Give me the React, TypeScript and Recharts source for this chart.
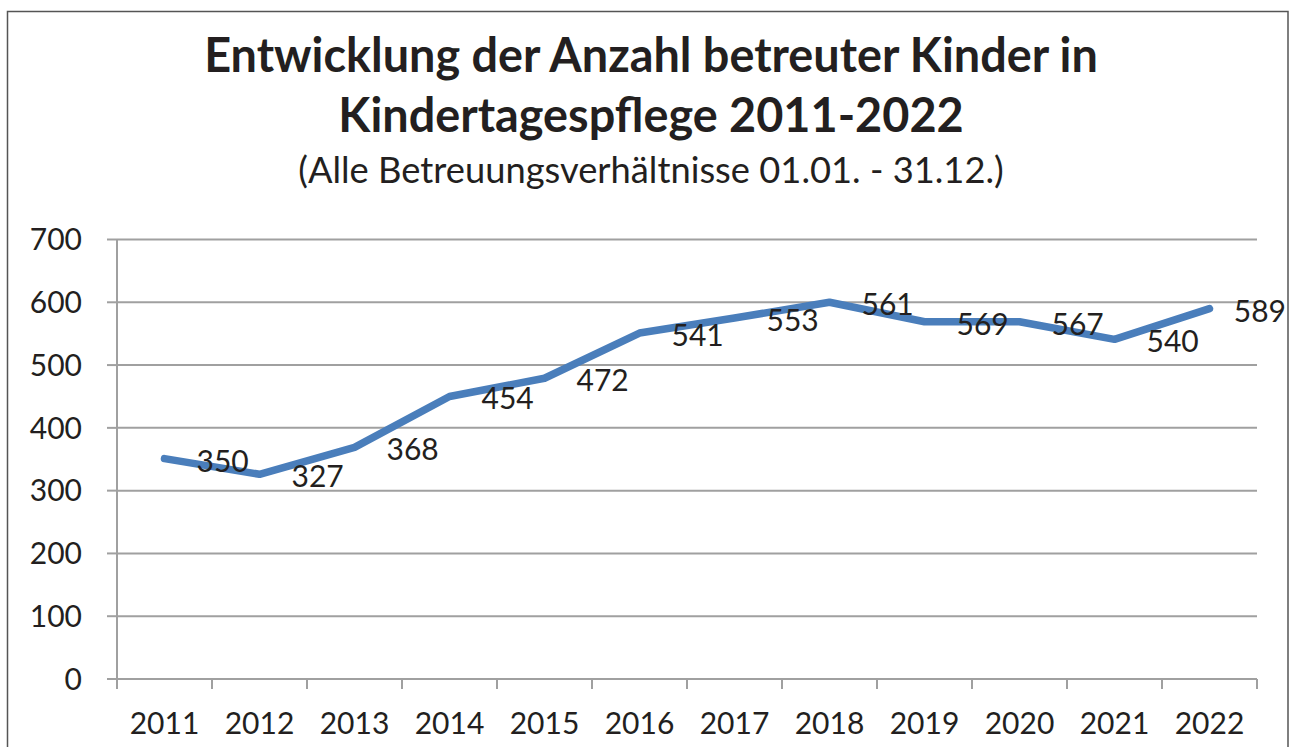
import React from 'react';
import { LineChart, Line, XAxis, YAxis, CartesianGrid, LabelList } from 'recharts';

// ---- data ----
const years = ['2011', '2012', '2013', '2014', '2015', '2016', '2017', '2018', '2019', '2020', '2021', '2022'];
// line positions as drawn in the reference
const lineValues = [351, 326, 369, 450, 479, 551, 575, 600, 569, 569, 541, 590];
// data label texts as printed in the reference
const labelValues = [350, 327, 368, 454, 472, 541, 553, 561, 569, 567, 540, 589];
const yTicks = [0, 100, 200, 300, 400, 500, 600, 700];
const bandEdges = [0, 1, 2, 3, 4, 5, 6, 7, 8, 9, 10, 11, 12];

const titleLine1 = 'Entwicklung der Anzahl betreuter Kinder in';
const titleLine2 = 'Kindertagespflege 2011-2022';
const subtitle = '(Alle Betreuungsverhältnisse 01.01. - 31.12.)';

// each category sits in the middle of its band on a 0..12 axis
const data = years.map((year, i) => ({ pos: i + 0.5, year, value: lineValues[i], label: labelValues[i] }));

const W = 1294;
const H = 747;
const FONT = 'Lato, "Open Sans", "Noto Sans", sans-serif';
const TEXT = '#231f20';
const GRID = '#a0a0a0';
const LINE = '#4a7ebb';

function YearTick(props: any) {
  const { x, y, payload, width } = props;
  const i = payload && payload.value;
  if (typeof i !== 'number' || i >= years.length) return <g />;
  const band = (typeof width === 'number' && width > 0 ? width : 1140) / years.length;
  return (
    <text x={x + band / 2} y={y} dy="0.71em" textAnchor="middle" fontFamily={FONT} fontSize={30} fill={TEXT}>
      {years[i]}
    </text>
  );
}

function DataLabel(props: any) {
  const { x, y, value } = props;
  const start = x + 32;
  const approxW = 52;
  const limit = 1286;
  const common = { fontFamily: FONT, fontSize: 30, fill: TEXT, y: y + 13 };
  if (start + approxW > limit) {
    return (
      <text {...common} x={limit} textAnchor="end">
        {value}
      </text>
    );
  }
  return (
    <text {...common} x={start} textAnchor="start">
      {value}
    </text>
  );
}

export default function App() {
  return (
    <div style={{ position: 'absolute', left: 0, top: 0, width: W, height: H, overflow: 'hidden', background: '#fff' }}>
      <LineChart
        width={W}
        height={H}
        data={data}
        margin={{ top: 239.5, right: 37, left: 57, bottom: 0 }}
      >
        <CartesianGrid vertical={false} stroke={GRID} strokeWidth={2} />
        <XAxis
          dataKey="pos"
          type="number"
          domain={[0, 12]}
          ticks={bandEdges}
          allowDataOverflow
          interval={0}
          height={68}
          tickSize={10}
          tickMargin={24}
          axisLine={{ stroke: GRID, strokeWidth: 2 }}
          tickLine={{ stroke: GRID, strokeWidth: 2 }}
          tick={<YearTick />}
        />
        <YAxis
          domain={[0, 700]}
          ticks={yTicks}
          width={60}
          tickSize={10}
          tickMargin={25}
          axisLine={{ stroke: GRID, strokeWidth: 2 }}
          tickLine={{ stroke: GRID, strokeWidth: 2 }}
          tick={{ fontFamily: FONT, fontSize: 30, fill: TEXT }}
          interval={0}
        />
        <Line
          type="linear"
          dataKey="value"
          stroke={LINE}
          strokeWidth={7.5}
          strokeLinecap="round"
          strokeLinejoin="round"
          dot={false}
          activeDot={false}
          isAnimationActive={false}
        >
          <LabelList dataKey="label" content={<DataLabel />} />
        </Line>
      </LineChart>
      <svg
        width={W}
        height={H}
        style={{ position: 'absolute', left: 0, top: 0, pointerEvents: 'none' }}
      >
        <rect x={7.5} y={11.5} width={1280.5} height={800} fill="none" stroke="#555" strokeWidth={1.5} />
        <text x={651} y={72} textAnchor="middle" fontFamily={FONT} fontWeight={700} fontSize={46.8} fill={TEXT}>
          {titleLine1}
        </text>
        <text x={651} y={132} textAnchor="middle" fontFamily={FONT} fontWeight={700} fontSize={46.8} fill={TEXT}>
          {titleLine2}
        </text>
        <text x={651} y={183} textAnchor="middle" fontFamily={FONT} fontSize={36.3} fill={TEXT}>
          {subtitle}
        </text>
      </svg>
    </div>
  );
}
